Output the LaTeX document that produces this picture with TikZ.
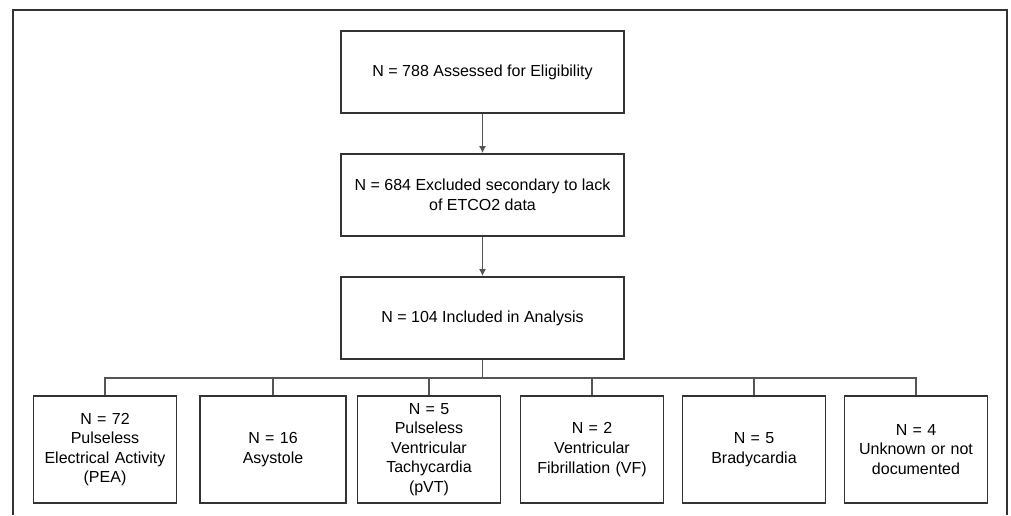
\documentclass[tikz,border=0pt]{standalone}
\usepackage{fontspec}
\setmainfont{Liberation Sans}
\usetikzlibrary{arrows.meta}

\definecolor{boxline}{HTML}{333333}
\definecolor{linkline}{HTML}{555555}

\begin{document}
\begin{tikzpicture}[x=1pt, y=-1pt,
  flowbox/.style={draw=boxline, line width=1.7pt, rectangle, fill=white,
    minimum width=283pt, minimum height=82pt, align=center, inner sep=0pt,
    font=\fontsize{16}{19.6}\selectfont},
  rhythmbox/.style={draw=boxline, line width=1.7pt, rectangle, fill=white,
    minimum width=143pt, minimum height=107pt, text width=136pt, align=center, inner sep=0pt,
    font=\fontsize{16}{19.6}\selectfont},
  link/.style={draw=linkline, line width=1.6pt},
  flowarrow/.style={link, -{Latex[length=7pt,width=7pt]}}]
  \useasboundingbox (0,0) rectangle (1011,515);
  % Frame
  \draw[draw=boxline, line width=1.5pt] (13,515) -- (13,10) -- (1007,10) -- (1007,515);

  % Nodes
  \node[flowbox] (Assessed) at (482.5,72) {N = 788 Assessed for Eligibility};
  \node[flowbox] (Excluded) at (482.5,195) {N = 684 Excluded secondary to lack\\of ETCO2 data};
  \node[flowbox] (Included) at (482.5,318) {N = 104 Included in Analysis};

  \node[rhythmbox] (PEA) at (105,449.5) {N = 72\\Pulseless\\Electrical Activity\\(PEA)};
  \node[rhythmbox, minimum width=146pt] (Asystole) at (273,449.5) {N = 16\\Asystole};
  \node[rhythmbox] (PVT) at (429,449.5) {N = 5\\Pulseless\\Ventricular\\Tachycardia\\(pVT)};
  \node[rhythmbox] (VF) at (592,449.5) {N = 2\\Ventricular\\Fibrillation (VF)};
  \node[rhythmbox] (Brady) at (754,449.5) {N = 5\\Bradycardia};
  \node[rhythmbox] (Unknown) at (916,449.5) {N = 4\\Unknown or not\\documented};

  \coordinate (bus) at (482.5,378);

  % Edges
  \draw[flowarrow] (Assessed.south) -- (Excluded.north);
  \draw[flowarrow] (Excluded.south) -- (Included.north);
  \draw[link] (Included.south) -- (bus);
  \draw[link] (PEA.north) -- (PEA.north |- bus) -- (Unknown.north |- bus) -- (Unknown.north);
  \draw[link] (Asystole.north) -- (Asystole.north |- bus);
  \draw[link] (PVT.north) -- (PVT.north |- bus);
  \draw[link] (VF.north) -- (VF.north |- bus);
  \draw[link] (Brady.north) -- (Brady.north |- bus);
\end{tikzpicture}
\end{document}
